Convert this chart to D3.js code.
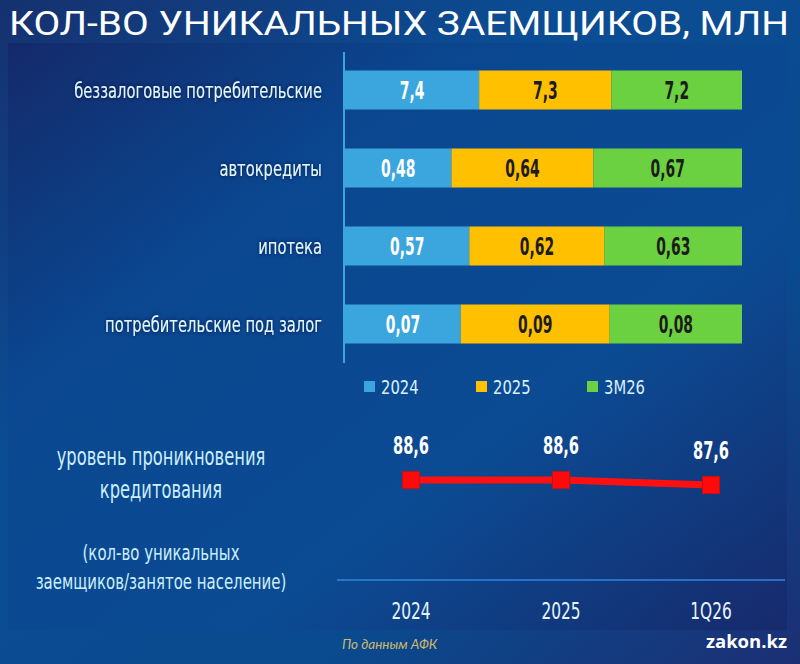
<!DOCTYPE html>
<html>
<head>
<meta charset="utf-8">
<script src="https://cdn.jsdelivr.net/npm/d3@7"></script>
<style>
  body { margin: 0; background: #0b3f86; }
  svg { display: block; }
  .cond { font-family: "DejaVu Sans", sans-serif; }
</style>
</head>
<body>
<svg id="chart" width="800" height="664"></svg>
<script>
// data
var categories = ["беззалоговые потребительские", "автокредиты", "ипотека", "потребительские под залог"];
var seriesNames = ["2024", "2025", "3M26"];
var v2024 = [7.4, 0.48, 0.57, 0.07];
var v2025 = [7.3, 0.64, 0.62, 0.09];
var v3m26 = [7.2, 0.67, 0.63, 0.08];
var penetrationLabels = ["2024", "2025", "1Q26"];
var penetration = [88.6, 88.6, 87.6];

var colors = ["#3aa6dd", "#ffc000", "#6bd140"];
var textColors = ["#ffffff", "#1c1c1c", "#1c1c1c"];
var fmt = v => String(v).replace(".", ",");

var svg = d3.select("#chart");
var W = 800, H = 664;

// narrow text: no condensed font installed, so squeeze horizontally
function squeeze(sel, fx, fy, sx) {
  sel.attr("transform", (d, i) => "translate(" + fx(d, i) + "," + fy(d, i) + ") scale(" + sx + ",1)");
}

// background
var defs = svg.append("defs");
var bg = defs.append("linearGradient").attr("id", "bg")
    .attr("x1", 0).attr("y1", 0).attr("x2", 1).attr("y2", 1);
bg.append("stop").attr("offset", "0%").attr("stop-color", "#16316f");
bg.append("stop").attr("offset", "35%").attr("stop-color", "#0b4d94");
bg.append("stop").attr("offset", "70%").attr("stop-color", "#0a4a8e");
bg.append("stop").attr("offset", "100%").attr("stop-color", "#1c2f74");
svg.append("rect").attr("width", W).attr("height", H).attr("fill", "url(#bg)");

var pg = defs.append("linearGradient").attr("id", "panel")
    .attr("x1", 0).attr("y1", 0).attr("x2", 1).attr("y2", 1);
pg.append("stop").attr("offset", "0%").attr("stop-color", "#142a6a");
pg.append("stop").attr("offset", "30%").attr("stop-color", "#0a4790");
pg.append("stop").attr("offset", "65%").attr("stop-color", "#0b4b93");
pg.append("stop").attr("offset", "100%").attr("stop-color", "#172a6c");
svg.append("rect").attr("x", 8).attr("y", 43).attr("width", 779).attr("height", 587)
    .attr("fill", "url(#panel)");

var glow = defs.append("filter").attr("id", "glow").attr("x", "-10%").attr("y", "-50%")
    .attr("width", "120%").attr("height", "200%");
glow.append("feDropShadow").attr("dx", 0).attr("dy", 0).attr("stdDeviation", 2.5)
    .attr("flood-color", "#00163d").attr("flood-opacity", 0.9);

// title
svg.append("text")
    .attr("x", 9).attr("y", 35)
    .attr("textLength", 780).attr("lengthAdjust", "spacingAndGlyphs")
    .style("font-family", "Roboto, 'Open Sans', sans-serif")
    .style("font-size", "33px")
    .style("font-weight", 400)
    .attr("fill", "#ffffff")
    .text("КОЛ-ВО УНИКАЛЬНЫХ ЗАЕМЩИКОВ, МЛН");

// stacked 100% bars
var rows = categories.map((c, i) => ({cat: c, "2024": v2024[i], "2025": v2025[i], "3M26": v3m26[i]}));
var stacked = d3.stack().keys(seriesNames).offset(d3.stackOffsetExpand)(rows);

var x = d3.scaleLinear().domain([0, 1]).range([345, 742]);
var y = d3.scaleBand().domain(categories).range([51, 363]).paddingInner(0.5).paddingOuter(0.25);

svg.append("line")
    .attr("x1", 344).attr("x2", 344).attr("y1", 52).attr("y2", 363)
    .attr("stroke", "#3aa6dd").attr("stroke-width", 2);

var layers = svg.append("g").selectAll("g")
  .data(stacked)
  .join("g")
    .attr("fill", (d, i) => colors[i]);

layers.selectAll("rect")
  .data(d => d)
  .join("rect")
    .attr("x", d => x(d[0]))
    .attr("y", d => y(d.data.cat))
    .attr("width", d => x(d[1]) - x(d[0]))
    .attr("height", y.bandwidth());

stacked.forEach((layer, i) => {
  svg.append("g").selectAll("text")
    .data(layer)
    .join("text")
      .attr("class", "cond")
      .attr("dy", "0.36em")
      .attr("text-anchor", "middle")
      .style("font-size", "24px")
      .style("font-weight", "bold")
      .attr("fill", textColors[i])
      .text(d => fmt(d.data[layer.key]))
      .call(squeeze, d => (x(d[0]) + x(d[1])) / 2, d => y(d.data.cat) + y.bandwidth() / 2, 0.58);
});

// category labels
svg.append("g").selectAll("text")
  .data(categories)
  .join("text")
    .attr("class", "cond")
    .attr("dy", "0.36em")
    .attr("text-anchor", "end")
    .style("font-size", "22px")
    .attr("fill", "#e4f6ff")
    .attr("filter", "url(#glow)")
    .text(d => d)
    .call(squeeze, () => 322, d => y(d) + y.bandwidth() / 2, 0.67);

// legend
var legendX = d3.scaleOrdinal().domain(seriesNames).range([364, 476, 587]);
var lg = svg.append("g").selectAll("g")
  .data(seriesNames)
  .join("g")
    .attr("transform", d => "translate(" + legendX(d) + ",387)");
lg.append("rect").attr("x", 0).attr("y", -6).attr("width", 11).attr("height", 11)
    .attr("fill", (d, i) => colors[i]);
lg.append("text")
    .attr("class", "cond")
    .attr("dy", "0.36em")
    .style("font-size", "20px")
    .attr("fill", "#d9f0ff")
    .text(d => d)
    .call(squeeze, () => 17, () => 0, 0.74);

// penetration line chart
var lx = d3.scalePoint().domain(penetrationLabels).range([411, 711]);
var ly = d3.scaleLinear().domain([85, 90]).range([498, 473]);

svg.append("line")
    .attr("x1", 337).attr("x2", 785).attr("y1", 580).attr("y2", 580)
    .attr("stroke", "#2f86e0").attr("stroke-width", 1.5);

var pts = penetrationLabels.map((k, i) => ({k: k, v: penetration[i]}));

svg.append("path")
    .datum(pts)
    .attr("d", d3.line().x(d => lx(d.k)).y(d => ly(d.v)))
    .attr("fill", "none")
    .attr("stroke", "#ff1010")
    .attr("stroke-width", 7);

svg.append("g").selectAll("rect")
  .data(pts)
  .join("rect")
    .attr("x", d => lx(d.k) - 8.5)
    .attr("y", d => ly(d.v) - 8.5)
    .attr("width", 17).attr("height", 17)
    .attr("fill", "#ff0a0a")
    .attr("stroke", "#c41010").attr("stroke-width", 1);

svg.append("g").selectAll("text")
  .data(pts)
  .join("text")
    .attr("class", "cond")
    .attr("text-anchor", "middle")
    .style("font-size", "24px")
    .style("font-weight", "bold")
    .attr("fill", "#ffffff")
    .text(d => fmt(d.v))
    .call(squeeze, d => lx(d.k), d => ly(d.v) - 26, 0.61);

svg.append("g").selectAll("text")
  .data(penetrationLabels)
  .join("text")
    .attr("class", "cond")
    .attr("text-anchor", "middle")
    .style("font-size", "23px")
    .attr("fill", "#e6f6ff")
    .text(d => d)
    .call(squeeze, d => lx(d), () => 619, 0.67);

// side caption
var caption = [
  {t: "уровень проникновения", y: 465, s: 24},
  {t: "кредитования", y: 498, s: 24},
  {t: "(кол-во уникальных", y: 560, s: 22},
  {t: "заемщиков/занятое население)", y: 589, s: 22}
];
svg.append("g").selectAll("text")
  .data(caption)
  .join("text")
    .attr("class", "cond")
    .attr("text-anchor", "middle")
    .style("font-size", d => d.s + "px")
    .attr("fill", "#cdeffd")
    .text(d => d.t)
    .call(squeeze, () => 161, d => d.y, 0.68);

// footer
svg.append("text")
    .attr("x", 342).attr("y", 649)
    .style("font-family", "Lato, 'Open Sans', sans-serif")
    .style("font-size", "13.5px")
    .style("font-style", "italic")
    .attr("fill", "#cdb96f")
    .text("По данным АФК");

svg.append("text")
    .attr("x", 787).attr("y", 648)
    .attr("text-anchor", "end")
    .style("font-family", "'Open Sans', Roboto, sans-serif")
    .style("font-size", "18.5px")
    .style("font-weight", "bold")
    .attr("fill", "#ffffff")
    .text("zakon.kz");
</script>
</body>
</html>
